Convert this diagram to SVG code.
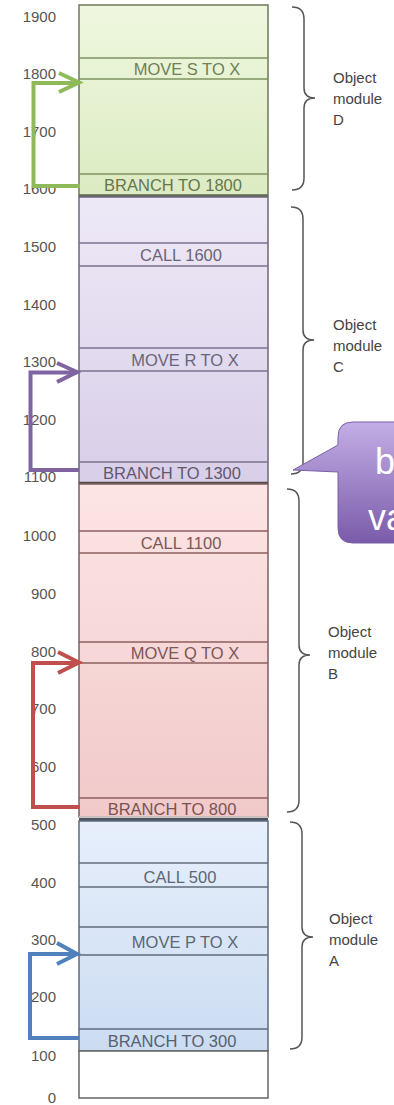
<svg xmlns="http://www.w3.org/2000/svg" width="394" height="1105" viewBox="0 0 394 1105">
<defs>
<linearGradient id="gD" x1="0" y1="0" x2="0" y2="1"><stop offset="0" stop-color="#eff8df"/><stop offset="1" stop-color="#dcebc2"/></linearGradient>
<linearGradient id="gC" x1="0" y1="0" x2="0" y2="1"><stop offset="0" stop-color="#eee9f7"/><stop offset="1" stop-color="#d8cee8"/></linearGradient>
<linearGradient id="gB" x1="0" y1="0" x2="0" y2="1"><stop offset="0" stop-color="#fde5e5"/><stop offset="1" stop-color="#f1c9c9"/></linearGradient>
<linearGradient id="gA" x1="0" y1="0" x2="0" y2="1"><stop offset="0" stop-color="#e7effc"/><stop offset="1" stop-color="#cbdcf1"/></linearGradient>
<linearGradient id="gCall" x1="0" y1="0" x2="0" y2="1"><stop offset="0" stop-color="#c3aee6"/><stop offset="1" stop-color="#7a5ba9"/></linearGradient>
</defs>
<style>
.ax{font-family:"Liberation Sans",Arial,sans-serif;font-size:15px;fill:#555;text-anchor:end}
.row{font-family:"Liberation Sans",Arial,sans-serif;font-size:16.5px;text-anchor:middle}
.lab{font-family:"Liberation Sans",Arial,sans-serif;font-size:15px;fill:#444}
.brace{fill:none;stroke:#555;stroke-width:1.5}
.arr{fill:none;stroke-width:4;stroke-linejoin:miter;stroke-linecap:butt}
.dD{stroke:#7f9262;stroke-width:1.5}
.dC{stroke:#7d7190;stroke-width:1.5}
.dB{stroke:#8c5f5f;stroke-width:1.5}
.dA{stroke:#5f6b7b;stroke-width:1.5}
</style>

<g id="axis">
<text class="ax" x="56" y="22">1900</text>
<text class="ax" x="56" y="79">1800</text>
<text class="ax" x="56" y="137">1700</text>
<text class="ax" x="56" y="194">1600</text>
<text class="ax" x="56" y="252">1500</text>
<text class="ax" x="56" y="310">1400</text>
<text class="ax" x="56" y="367">1300</text>
<text class="ax" x="56" y="425">1200</text>
<text class="ax" x="56" y="482">1100</text>
<text class="ax" x="56" y="541">1000</text>
<text class="ax" x="56" y="599">900</text>
<text class="ax" x="56" y="657">800</text>
<text class="ax" x="56" y="714">700</text>
<text class="ax" x="56" y="772">600</text>
<text class="ax" x="56" y="830">500</text>
<text class="ax" x="56" y="888">400</text>
<text class="ax" x="56" y="945">300</text>
<text class="ax" x="56" y="1002">200</text>
<text class="ax" x="56" y="1061">100</text>
<text class="ax" x="56" y="1103">0</text>
</g>

<g id="moduleD">
<rect x="79" y="5" width="189" height="191" fill="url(#gD)" stroke="#6c7a5a" stroke-width="1.5"/>
<line class="dD" x1="79" y1="58" x2="268" y2="58"/>
<line class="dD" x1="79" y1="79" x2="268" y2="79"/>
<line class="dD" x1="79" y1="174" x2="268" y2="174"/>
<line x1="79" y1="195.5" x2="268" y2="195.5" stroke="#5e6a50" stroke-width="2.5"/>
<text class="row" x="187" y="75" fill="#6f7f58">MOVE S TO X</text>
<text class="row" x="173" y="191" fill="#66764f">BRANCH TO 1800</text>
</g>

<g id="moduleC">
<rect x="79" y="197" width="189" height="286" fill="url(#gC)" stroke="#6e667a" stroke-width="1.5"/>
<line class="dC" x1="79" y1="243" x2="268" y2="243"/>
<line class="dC" x1="79" y1="266" x2="268" y2="266"/>
<line class="dC" x1="79" y1="348" x2="268" y2="348"/>
<line class="dC" x1="79" y1="371" x2="268" y2="371"/>
<line class="dC" x1="79" y1="462" x2="268" y2="462"/>
<line x1="79" y1="483" x2="268" y2="483" stroke="#5a4a48" stroke-width="2.5"/>
<text class="row" x="181" y="261" fill="#6a6478">CALL 1600</text>
<text class="row" x="185" y="366" fill="#6a6478">MOVE R TO X</text>
<text class="row" x="172" y="479" fill="#5f5870">BRANCH TO 1300</text>
</g>

<g id="moduleB">
<rect x="79" y="484" width="189" height="333" fill="url(#gB)" stroke="#7a6060" stroke-width="1.5"/>
<line class="dB" x1="79" y1="531" x2="268" y2="531"/>
<line class="dB" x1="79" y1="553" x2="268" y2="553"/>
<line class="dB" x1="79" y1="642" x2="268" y2="642"/>
<line class="dB" x1="79" y1="663" x2="268" y2="663"/>
<line class="dB" x1="79" y1="798" x2="268" y2="798"/>
<line x1="79" y1="817" x2="268" y2="817" stroke="#ffffff" stroke-width="1"/>
<line x1="79" y1="819.5" x2="268" y2="819.5" stroke="#4b5565" stroke-width="3"/>
<text class="row" x="181" y="549" fill="#7a5858">CALL 1100</text>
<text class="row" x="185" y="659" fill="#7a5858">MOVE Q TO X</text>
<text class="row" x="172" y="815" fill="#7a5252">BRANCH TO 800</text>
</g>

<g id="moduleA">
<rect x="79" y="821" width="189" height="230" fill="url(#gA)" stroke="#5f6b7b" stroke-width="1.5"/>
<line class="dA" x1="79" y1="863" x2="268" y2="863"/>
<line class="dA" x1="79" y1="887" x2="268" y2="887"/>
<line class="dA" x1="79" y1="927" x2="268" y2="927"/>
<line class="dA" x1="79" y1="955" x2="268" y2="955"/>
<line class="dA" x1="79" y1="1029" x2="268" y2="1029"/>
<text class="row" x="180" y="883" fill="#5c6675">CALL 500</text>
<text class="row" x="185" y="948" fill="#5c6675">MOVE P TO X</text>
<text class="row" x="172" y="1047" fill="#56606e">BRANCH TO 300</text>
</g>

<g id="free">
<rect x="79" y="1051" width="189" height="47" fill="#ffffff" stroke="#666" stroke-width="1.5"/>
</g>

<g id="braces">
<path class="brace" d="M292 7 Q304 7 304 19 L304 88 Q304 98 315 98 Q304 98 304 108 L304 178 Q304 190 292 190"/>
<path class="brace" d="M291 207 Q303 207 303 219 L303 330 Q303 340 314 340 Q303 340 303 350 L303 462 Q303 474 291 474"/>
<path class="brace" d="M287 489 Q299 489 299 501 L299 645 Q299 655 310 655 Q299 655 299 665 L299 800 Q299 812 287 812"/>
<path class="brace" d="M290 822 Q302 822 302 834 L302 927 Q302 937 313 937 Q302 937 302 947 L302 1037 Q302 1049 290 1049"/>
</g>

<g id="labels">
<text class="lab" x="333" y="83">Object</text><text class="lab" x="333" y="104">module</text><text class="lab" x="333" y="125">D</text>
<text class="lab" x="333" y="330">Object</text><text class="lab" x="333" y="351">module</text><text class="lab" x="333" y="372">C</text>
<text class="lab" x="328" y="637">Object</text><text class="lab" x="328" y="658">module</text><text class="lab" x="328" y="679">B</text>
<text class="lab" x="329" y="924">Object</text><text class="lab" x="329" y="945">module</text><text class="lab" x="329" y="966">A</text>
</g>

<g id="connectors">
<path class="arr" stroke="#8fba5a" d="M80 186 H33.5 V83 H78"/>
<path class="arr" stroke="#8fba5a" d="M59 73 L79 82.5 L59 92"/>
<path class="arr" stroke="#8064a2" d="M79 470 H30.5 V372.5 H77"/>
<path class="arr" stroke="#8064a2" d="M57 363 L77 372 L57 382"/>
<path class="arr" stroke="#c0504d" d="M80 807 H33 V663 H78"/>
<path class="arr" stroke="#c0504d" d="M58 652 L79 662.5 L58 673"/>
<path class="arr" stroke="#4f81bd" d="M79 1038 H30 V954 H77"/>
<path class="arr" stroke="#4f81bd" d="M57 943 L77 954 L57 964"/>
</g>

<g id="callout">
<path d="M338 437 Q338 422 353 422 H400 V543 H353 Q338 543 338 528 V472 L293 470 L338 445 Z" fill="url(#gCall)" stroke="#7c5fa8" stroke-width="1"/>
<text x="375" y="474" font-family="Liberation Sans,Arial,sans-serif" font-size="36" fill="#ffffff">b</text>
<text x="368" y="530" font-family="Liberation Sans,Arial,sans-serif" font-size="36" fill="#ffffff">va</text>
</g>
</svg>
